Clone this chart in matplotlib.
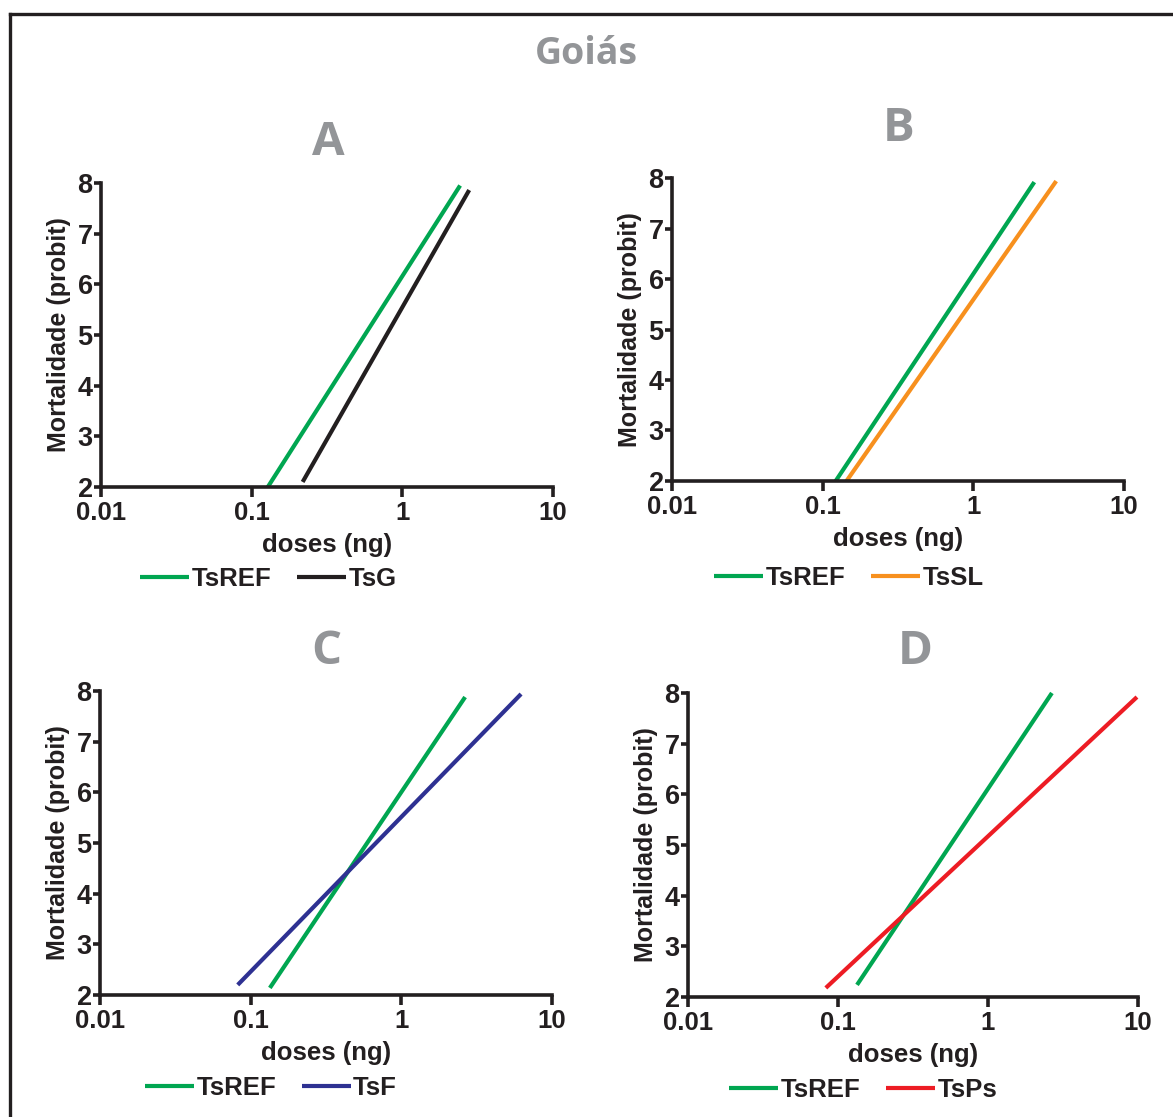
import matplotlib
matplotlib.use('Agg')
import matplotlib.pyplot as plt
from matplotlib.lines import Line2D

plt.rcParams['font.family'] = ['Liberation Sans', 'DejaVu Sans']
plt.rcParams['font.weight'] = 'bold'

# dados (doses em ng, mortalidade em probit)
panel_letters = ['A', 'B', 'C', 'D']
ref_label = 'TsREF'
other_labels = ['TsG', 'TsSL', 'TsF', 'TsPs']
other_colors = ['#231f20', '#f7901e', '#2e3192', '#ed1c24']
ref_color = '#00a651'

ref_doses = [[0.128, 2.42], [0.122, 2.54], [0.134, 2.65], [0.134, 2.67]]
ref_probit = [[2.0, 7.95], [2.0, 7.92], [2.14, 7.88], [2.24, 8.0]]
other_doses = [[0.218, 2.78], [0.144, 3.55], [0.082, 6.23], [0.083, 9.85]]
other_probit = [[2.1, 7.86], [2.0, 7.94], [2.2, 7.94], [2.18, 7.92]]

x_ticks = [0.01, 0.1, 1, 10]
x_ticklabels = ['0.01', '0.1', '1', '10']
y_ticks = [2, 3, 4, 5, 6, 7, 8]

# layout (fracoes da figura)
axes_pos = [[0.0861, 0.564, 0.3853, 0.2722],
            [0.5729, 0.5694, 0.3853, 0.2712],
            [0.0853, 0.1092, 0.3853, 0.2722],
            [0.5865, 0.1074, 0.3836, 0.2722]]
letter_pos = [(0.280, 0.872), (0.766, 0.885), (0.278, 0.417), (0.780, 0.417)]
legend_pos = [(0.229, 0.4817), (0.7238, 0.4825), (0.231, 0.026), (0.736, 0.024)]

fig = plt.figure(figsize=(11.73, 11.17), dpi=100)

fig.text(0.4995, 0.952, 'Goiás', ha='center', va='center', fontsize=27,
         color='#939598', fontweight='bold', family=['Open Sans', 'DejaVu Sans'])

for i in range(4):
    ax = fig.add_axes(axes_pos[i])
    ax.plot(ref_doses[i], ref_probit[i], color=ref_color, lw=3, label=ref_label,
            solid_capstyle='butt', clip_on=False)
    ax.plot(other_doses[i], other_probit[i], color=other_colors[i], lw=3,
            label=other_labels[i], solid_capstyle='butt', clip_on=False)
    ax.set_xscale('log')
    ax.set_xlim(0.01, 10)
    ax.set_ylim(2, 8)
    ax.set_xticks(x_ticks)
    ax.set_xticklabels(x_ticklabels)
    ax.minorticks_off()
    ax.set_yticks(y_ticks)
    for s in ['top', 'right']:
        ax.spines[s].set_visible(False)
    for s in ['left', 'bottom']:
        ax.spines[s].set_linewidth(2.6)
        ax.spines[s].set_color('#231f20')
    ax.tick_params(axis='x', length=7, width=2.6, color='#231f20', labelsize=18.5,
                   pad=3, labelcolor='#231f20')
    ax.tick_params(axis='y', length=5, width=2.6, color='#231f20', labelsize=19.5,
                   pad=1, labelcolor='#231f20')
    for t in ax.get_xticklabels() + ax.get_yticklabels():
        t.set_fontweight('bold')
    ax.set_xlabel('doses (ng)', fontsize=18.5, fontweight='bold', color='#231f20', labelpad=6)
    ax.set_ylabel('Mortalidade (probit)', fontsize=18, fontweight='bold', color='#231f20',
                  labelpad=5)
    ax.patch.set_alpha(0)

    fig.text(letter_pos[i][0], letter_pos[i][1], panel_letters[i], ha='center', va='center',
             fontsize=34, color='#939598', fontweight='bold',
             family=['Open Sans', 'DejaVu Sans'])

    leg = ax.legend(loc='center', bbox_to_anchor=legend_pos[i], bbox_transform=fig.transFigure,
                    ncol=2, frameon=False, handlelength=1.9, handletextpad=0.1,
                    columnspacing=1.0, prop={'size': 18.5, 'weight': 'bold'})
    for t in leg.get_texts():
        t.set_color('#231f20')

# moldura (topo e esquerda)
fig.add_artist(Line2D([0.0085, 1.0], [0.9875, 0.9875], transform=fig.transFigure,
                      color='#231f20', lw=2.4))
fig.add_artist(Line2D([0.0085, 0.0085], [0.0, 0.9875], transform=fig.transFigure,
                      color='#231f20', lw=2.4))

fig.savefig('out.png', dpi=100)
